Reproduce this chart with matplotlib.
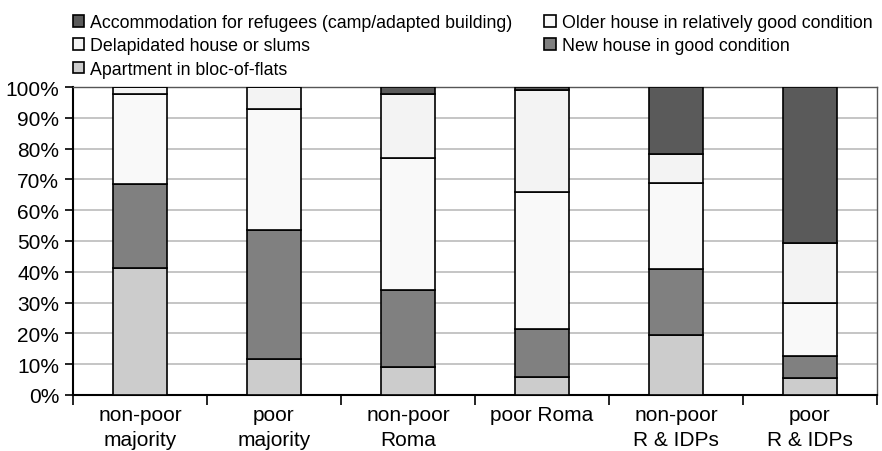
import matplotlib
import matplotlib.pyplot as plt
import numpy as np

matplotlib.use('Agg')

plt.rcParams['font.family'] = ['Liberation Sans', 'DejaVu Sans']
plt.rcParams['font.size'] = 15

groups = ['non-poor\nmajority', 'poor\nmajority', 'non-poor\nRoma', 'poor Roma',
          'non-poor\nR & IDPs', 'poor\nR & IDPs']

# shares of each housing type (%), stacked bottom to top
apartment = [41.2, 11.6, 9.2, 5.9, 19.5, 5.4]
new_house = [27.2, 42.1, 24.9, 15.4, 21.4, 7.4]
older_house = [29.2, 39.1, 42.8, 44.6, 28.0, 17.2]
delapidated = [2.4, 7.2, 20.7, 33.0, 9.2, 19.4]
refugees = [0.0, 0.0, 2.4, 1.1, 21.9, 50.6]

series = [
    ('Apartment in bloc-of-flats', apartment, '#cccccc'),
    ('New house in good condition', new_house, '#808080'),
    ('Older house in relatively good condition', older_house, '#f9f9f9'),
    ('Delapidated house or slums', delapidated, '#f3f3f3'),
    ('Accommodation for refugees (camp/adapted building)', refugees, '#5a5a5a'),
]

fig = plt.figure(figsize=(8.82, 4.52), dpi=100)
ax = fig.add_axes([73 / 882, 56 / 452, 804 / 882, 308 / 452])

x = np.arange(len(groups))
bottom = np.zeros(len(groups))
handles = {}
for name, vals, color in series:
    vals = np.array(vals)
    bars = ax.bar(x, vals, width=0.4, bottom=bottom, color=color,
                  edgecolor='black', linewidth=1.2, zorder=3, label=name)
    handles[name] = bars
    bottom += vals

ax.set_xlim(-0.5, len(groups) - 0.5)
ax.set_ylim(0, 100)
ax.set_yticks(np.arange(0, 101, 10))
ax.set_yticklabels([f'{v}%' for v in range(0, 101, 10)])
ax.yaxis.grid(True, color='#c0c0c0', linewidth=1.3, zorder=0)
ax.set_axisbelow(True)

# category labels sit between boundary ticks
ax.set_xticks(np.arange(-0.5, len(groups), 1.0))
ax.set_xticklabels([])
ax.set_xticks(x, minor=True)
ax.set_xticklabels(groups, minor=True, va='top', linespacing=1.42)
ax.tick_params(axis='x', which='minor', length=0, pad=7)
ax.tick_params(axis='x', which='major', length=7, width=1.2, color='black')
ax.tick_params(axis='y', length=6, width=1.2, pad=4)

for s in ax.spines.values():
    s.set_linewidth(1.5)
    s.set_color('black')
ax.spines['right'].set_linewidth(1.0)
ax.spines['right'].set_color('#555555')
ax.spines['top'].set_linewidth(1.0)
ax.spines['top'].set_color('#555555')

order = ['Accommodation for refugees (camp/adapted building)',
         'Delapidated house or slums',
         'Apartment in bloc-of-flats',
         'Older house in relatively good condition',
         'New house in good condition']
fig.legend([handles[n] for n in order], order, ncol=2, fontsize=12.8,
           loc='upper left', bbox_to_anchor=(73 / 882, 1 - 15 / 452),
           frameon=False, handlelength=0.62, handleheight=0.62,
           handletextpad=0.35, columnspacing=1.8, labelspacing=0.36,
           borderaxespad=0, borderpad=0)

fig.savefig('out.png', dpi=100)
